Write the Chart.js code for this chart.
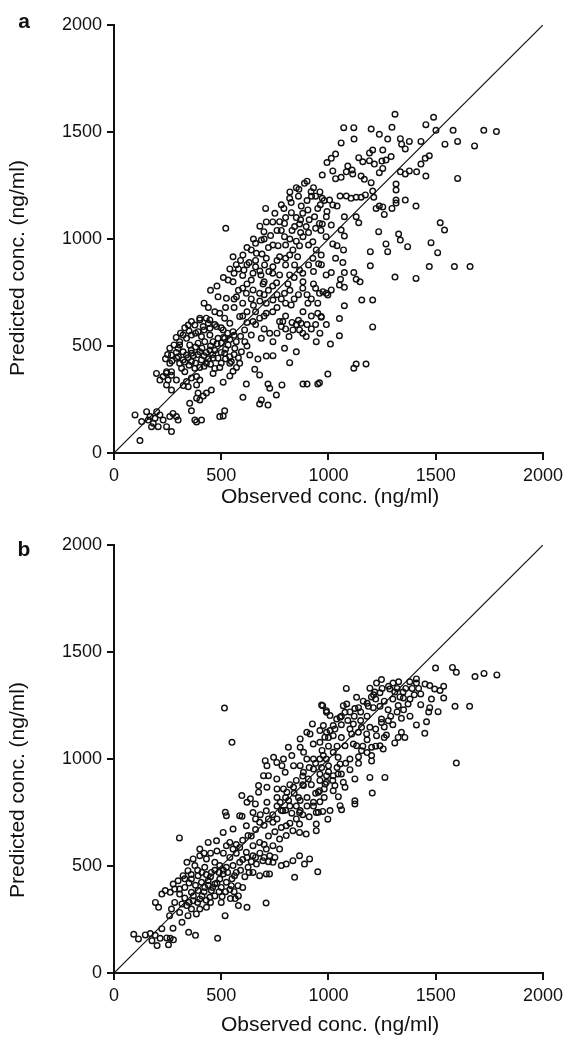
<!DOCTYPE html>
<html>
<head>
<meta charset="utf-8">
<script src="https://cdn.jsdelivr.net/npm/chart.js@4.4.1/dist/chart.umd.min.js"></script>
<style>
  html,body{margin:0;padding:0;background:#fff;}
  #wrap{position:relative;width:568px;height:1040px;}
  canvas{position:absolute;left:0;}
</style>
</head>
<body>
<div id="wrap">
  <canvas id="cA" width="568" height="520" style="top:0px"></canvas>
  <canvas id="cB" width="568" height="520" style="top:520px"></canvas>
</div>
<script>
// ---------- DATA ----------
const axisTicks = [0, 500, 1000, 1500, 2000];
const identityLineX = [0, 2000];
const identityLineY = [0, 2000];
const panelLabels = ['a', 'b'];
const xTitle = 'Observed conc. (ng/ml)';
const yTitle = 'Predicted conc. (ng/ml)';

// panel a: [observed, predicted]
const pointsA = [
[1310,1583],[1490,1569],[1454,1534],[1071,1520],[1118,1520],[1199,1514],[1296,1522],[1501,1508],[1581,1508],[1724,1508],
[1783,1502],[1237,1489],[1276,1467],[1119,1467],[1059,1449],[1335,1469],[1377,1456],[1341,1443],[1358,1421],[1431,1456],
[1543,1443],[1602,1456],[1681,1435],[1253,1416],[1206,1416],[1191,1402],[1033,1397],[1013,1377],[993,1357],[1141,1380],
[1160,1361],[1191,1366],[1214,1350],[1268,1369],[1292,1385],[1249,1364],[1470,1389],[1451,1377],[1431,1350],[1090,1341],
[1110,1322],[1083,1314],[1020,1318],[971,1299],[1033,1282],[1059,1288],[1113,1304],[1152,1294],[1167,1279],[1199,1263],
[1237,1310],[1253,1330],[1335,1314],[1358,1304],[1377,1318],[1411,1314],[1454,1294],[1602,1283],[1315,1257],[1315,1229],
[1206,1224],[1054,1201],[1083,1201],[1105,1190],[1129,1195],[1152,1195],[1172,1206],[971,1190],[1005,1182],[1315,1182],
[1315,1168],[1358,1182],[1211,1195],[1237,1154],[1253,1150],[1222,1143],[1296,1143],[1408,1154],[1020,1159],[1040,1154],
[993,1128],[1129,1104],[1074,1104],[1260,1115],[1141,1076],[971,1070],[1013,1065],[1059,1042],[1074,1014],[1521,1076],
[1541,1042],[1234,1034],[1327,1023],[1335,995],[1268,977],[1276,941],[1369,964],[1478,983],[1509,936],[1195,941],
[1020,977],[1040,969],[1070,949],[1033,910],[1067,890],[1195,875],[1470,871],[1587,871],[1660,871],[1013,843],
[1074,843],[1118,843],[1129,812],[1147,800],[1056,812],[1310,822],[1408,816],[967,880],
[974,754],[997,738],[1013,762],[1051,785],[1074,774],[1155,715],[1206,715],[1074,688],[966,634],[1051,628],
[1206,589],[1051,548],[1009,509],[997,369],[1118,396],[1129,416],[1175,416],[958,328],
[888,1260],[862,1232],[919,1221],[921,1200],[819,1190],[826,1170],[873,1154],[707,1143],[792,1143],[827,1123],
[904,1136],[950,1143],[962,1160],[521,1050],[772,1081],[795,1073],[865,1070],[935,1104],[958,1073],[896,1058],
[842,1058],[965,1040],[990,1104],[699,1034],[730,1016],[795,1011],[881,1011],[907,1030],[927,987],[989,1011],
[687,995],[640,949],[741,972],[765,969],[800,972],[834,949],[865,969],[907,972],[943,949],[555,917],
[601,925],[664,933],[710,910],[772,917],[819,925],[856,917],[927,910],[966,925],[702,879],[741,870],
[800,879],[842,879],[907,879],[954,884],[989,832],[606,855],[648,840],[685,832],[722,848],[772,832],
[819,832],[865,855],[930,848],[532,808],[555,800],[640,808],[695,790],[758,795],[811,790],[881,800],[930,790],
[485,730],[524,723],[571,730],[617,746],[648,762],[679,746],[710,700],[741,715],[795,746],[826,692],
[881,660],[904,700],[950,700],[958,746],[990,746],[950,653],[966,638],[493,653],[516,630],[540,606],
[586,638],[620,660],[648,614],[679,630],[346,598],[400,622],[430,630],[447,583],[478,591],[509,575],
[555,567],[609,575],[640,551],[687,536],[726,559],[741,520],[772,614],[787,614],[780,591],[710,653],
[816,544],[834,575],[865,575],[872,606],[896,544],[943,520],[850,473],[795,489],[741,455],[710,453],
[671,439],[633,458],[656,391],[679,365],[718,322],[726,303],[757,271],[783,318],[819,422],[881,322],
[900,322],[950,322],[617,322],[601,260],[687,248],[679,229],[718,224],[586,419],[571,400],[555,382],
[540,360],[509,331],[540,419],[493,400],[462,372],[454,294],[431,280],[416,266],[400,248],[385,256],
[392,280],[353,232],[361,197],[377,154],[408,154],[385,145],[493,170],[516,197],[509,173],[315,396],
[330,380],[361,350],[338,334],[323,315],[346,310],[385,318],[400,341],[385,357],[291,341],[268,363],
[252,341],[268,294],[244,373],[229,357],[268,380],[306,419],[260,419],[245,380],[293,443],[322,435],
[338,458],[361,427],[377,396],[408,435],[431,419],[462,443],[447,481],[400,473],[361,466],[322,473],
[291,470],[306,505],[353,505],[392,513],[423,520],[462,520],[501,513],[532,505],[563,489],[594,473],
[516,466],[485,443],[547,427],[198,372],[214,341],[245,318],[98,178],[121,58],[129,147],[152,193],
[168,170],[183,139],[206,123],[214,178],[199,193],[245,123],[268,100],[260,170],[291,170],[299,154],
[275,185],[229,154],[191,162],[175,123],[160,154],[306,520],[338,536],[361,551],[392,567],[416,591],
[377,598],[361,614],[400,630],[447,622],[408,544],[447,551],[485,536],[516,536],[322,551],[299,489],[268,458],
[360,480],[380,495],[410,490],[430,470],[450,500],[470,480],[500,470],[520,485],[540,450],[560,460],
[580,445],[420,455],[440,440],[390,460],[370,455],[345,445],[330,425],[350,410],[380,420],[400,400],
[420,405],[450,415],[470,395],[500,420],[520,440],[460,460],[480,510],[510,540],[540,530],[570,520],
[590,545],[610,520],[620,500],[560,550],[530,560],[500,585],[470,600],[440,605],[420,575],[380,560],
[350,570],[330,585],[310,560],[290,540],[280,505],[260,490],[250,460],[240,440],[270,430],[300,450],
[650,690],[680,710],[700,740],[720,760],[740,780],[760,740],[780,720],[800,700],[820,760],[840,720],
[860,740],[880,770],[900,740],[920,720],[940,770],[700,800],[680,850],[660,870],[740,840],[760,900],
[800,910],[840,820],[880,840],[620,790],[600,770],[580,760],[560,720],[600,700],[640,720],[660,660],
[700,640],[740,660],[760,680],[800,640],[830,610],[860,620],[900,600],[920,640],[940,600],
[850,1100],[880,1120],[910,1090],[940,1200],[900,1180],[860,1200],[830,1040],[870,1030],[940,1050],[760,1040],
[740,1080],[820,1000],[850,990],[720,960],[690,930],[660,900],[620,880],[580,860],[560,840],[600,830],
[620,960],[650,1000],[680,1060],[710,1080],[750,1120],[780,1160],[820,1220],[850,1240],[900,1270],[930,1240],
[960,1220],[980,1180],[870,1090],[800,1100],[780,1040],[700,1000],[660,980],[630,890],[590,900],[570,880],
[540,860],[510,820],[480,780],[450,760],[420,700],[440,680],[470,660],[520,680],[560,680],[600,640],
[620,610],[660,600],[700,580],[760,560],[800,580],[850,600],[880,560],[920,580],[960,560],[990,600]
];

// panel b: [observed, predicted]
const pointsB = [
[1499,1425],[1578,1428],[1596,1405],[1683,1385],[1725,1400],[1785,1393],[1410,1374],[1410,1355],[1379,1361],[1472,1343],
[1495,1327],[1537,1340],[1520,1320],[1537,1285],[1430,1304],[1480,1280],[1430,1254],[1472,1240],[1467,1220],[1511,1221],
[1590,1246],[1658,1246],[1410,1159],[1457,1174],[1449,1120],[1596,981],[1371,1257],[1349,1285],[1325,1250],[1301,1355],
[1327,1361],[1286,1327],[1247,1371],[1224,1355],[1193,1331],[1216,1313],[1309,1313],[1348,1313],[1333,1290],[1278,1230],
[1240,1246],[1209,1240],[1186,1246],[1162,1270],[1131,1288],[1123,1236],[1085,1257],[1077,1218],[1054,1195],[1247,1187],
[1279,1179],[1247,1171],[1193,1148],[1154,1148],[1116,1163],[1108,1117],[1139,1125],[1178,1117],[1224,1109],[1270,1112],
[1340,1125],[1356,1101],[1325,1101],[1309,1075],[1240,1062],[1255,1047],[1201,1055],[1154,1039],[1131,1062],[1116,1070],
[1077,1062],[1022,1109],[1007,1133],[991,1125],[1022,1156],[976,1156],[1038,1187],[1007,1203],[991,1218],[973,1249],
[1069,1249],[1083,1330],[1201,1016],[1201,991],[1022,1031],[1045,1008],[1054,977],[1000,968],[976,1016],[968,960],
[1022,922],[1045,930],[991,922],[1123,907],[1193,914],[1263,914],[1069,891],[1030,876],[984,883],[1077,868],
[1022,852],[1204,841],[1123,805],[1123,790],[1054,782],[1046,824],[1007,759],[1061,763],[958,852],[973,755],
[515,1238],[550,1078],[968,1252],[990,1226],[925,1164],[899,1125],[914,1117],[960,1133],[983,1102],[960,1078],
[929,1070],[868,1094],[868,1055],[884,1031],[813,1055],[829,1016],[790,1000],[783,969],[759,984],[744,1008],
[705,992],[713,969],[697,922],[720,922],[759,907],[798,938],[837,969],[868,969],[899,1000],[930,1000],
[960,1000],[990,1000],[930,953],[883,938],[906,907],[960,930],[990,891],[953,845],[883,876],[837,868],
[806,845],[760,860],[713,868],[674,876],[674,845],[636,814],[596,829],[620,798],[659,790],[713,798],
[775,798],[814,806],[868,806],[930,798],[868,759],[829,747],[953,751],[519,751],[597,732],[682,740],
[305,631],[92,181],[114,159],[146,178],[169,184],[192,176],[177,151],[201,128],[215,162],[246,164],
[254,132],[262,162],[277,155],[275,209],[223,207],[348,190],[380,176],[483,162],[317,237],[259,268],
[268,299],[306,283],[345,268],[384,276],[400,299],[361,299],[339,315],[317,323],[283,330],[431,307],
[518,268],[580,315],[620,307],[543,348],[565,348],[504,357],[709,327],[193,330],[208,307],[223,369],
[239,385],[262,377],[283,392],[306,392],[330,400],[361,377],[392,385],[423,400],[454,385],[447,354],
[400,346],[369,338],[306,369],[276,416],[299,431],[322,455],[345,478],[361,439],[392,455],[408,424],
[439,431],[470,416],[493,439],[524,424],[547,408],[578,408],[562,455],[509,463],[454,470],[423,494],
[377,502],[340,517],[369,533],[400,548],[431,533],[470,517],[493,502],[524,494],[555,502],[586,517],
[625,494],[648,470],[679,455],[710,463],[725,463],[664,509],[694,525],[741,517],[780,502],[803,509],
[842,447],[888,509],[950,473],[834,525],[865,548],[912,533],[400,579],[439,610],[478,618],[524,595],
[555,579],[586,587],[617,564],[648,595],[679,610],[710,579],[741,595],[772,626],[803,642],[834,665],
[865,657],[896,649],[943,665],[943,696],[865,696],[803,688],[741,704],[679,704],[617,688],[555,673],
[509,657],[524,735],[586,735],[648,750],[710,758],[787,758],[865,750],[943,750],[997,719],[625,642],
[772,579],[726,548],[648,548],
[330,350],[350,330],[370,360],[390,330],[410,360],[430,340],[450,330],[470,360],[490,380],[500,330],
[520,380],[540,390],[560,380],[580,360],[600,400],[420,380],[440,410],[460,400],[480,420],[500,400],
[350,420],[380,410],[330,440],[360,460],[390,480],[410,470],[430,460],[450,450],[470,480],[490,470],
[510,480],[530,470],[550,440],[570,470],[590,480],[610,450],[630,470],[600,530],[620,540],[640,520],
[660,540],[680,560],[700,540],[720,520],[750,540],[570,560],[540,540],[510,560],[480,570],[450,560],
[420,560],[700,600],[720,640],[750,660],[780,680],[820,700],[850,720],[880,740],[910,730],[930,780],
[960,800],[980,820],[900,820],[850,780],[800,760],[760,720],[700,690],[660,670],[640,640],[600,620],
[570,600],[540,610],[660,720],[720,720],[760,780],[800,820],[840,840],[880,880],[920,880],[960,900],
[1000,940],[1040,960],[1080,980],[1100,1000],[1140,1010],[1160,1060],[1180,1090],[1220,1140],[1260,1150],[1290,1200],
[1320,1220],[1350,1230],[1380,1280],[1400,1300],[1300,1280],[1260,1270],[1220,1280],[1180,1200],[1150,1180],[1100,1140],
[1060,1100],[1040,1060],[1000,1060],[1060,1160],[1100,1220],[1140,1240],[1200,1290],[1240,1310],
[760,820],[790,860],[820,880],[850,900],[880,920],[910,960],[940,980],[970,1040],[1000,1100],[1030,1140],
[1060,1200],[1090,1180],[1120,1200],[1150,1220],[1180,1260],[1210,1300],[1250,1330],[1280,1340],[1320,1330],[1360,1330],
[1390,1330],[1420,1330],[1450,1350],[1380,1200],[1340,1190],[1300,1160],[1260,1100],[1220,1060],[1180,1030],[1140,980],
[1100,950],[1060,930],[1020,900],[980,860],[940,840],[900,780],[860,820],[820,780],[780,760],[740,740]
];

// ---------- CHART ----------
const FONT = '"Liberation Sans", Arial, Helvetica, sans-serif';

const textPlugin = {
  id: 'panelText',
  afterDraw(chart, args, o) {
    const ctx = chart.ctx;
    ctx.save();
    ctx.fillStyle = '#111';
    ctx.textAlign = 'center';
    ctx.textBaseline = 'middle';
    ctx.font = 'bold 21px ' + FONT;
    ctx.fillText(o.label, o.labelX, o.labelY);
    ctx.font = '21px ' + FONT;
    ctx.fillText(o.xTitle, o.xTitleX, o.xTitleY);
    ctx.translate(o.yTitleX, o.yTitleY);
    ctx.rotate(-Math.PI / 2);
    ctx.fillText(o.yTitle, 0, 0);
    ctx.restore();
  }
};

function axisCfg(isX) {
  return {
    type: 'linear',
    min: axisTicks[0],
    max: axisTicks[axisTicks.length - 1],
    afterBuildTicks(scale) { scale.ticks = axisTicks.map(v => ({ value: v })); },
    ticks: {
      color: '#111',
      font: { family: FONT, size: 18 },
      padding: 5,
      maxRotation: 0,
      autoSkip: false,
      callback: v => String(v)
    },
    grid: {
      drawOnChartArea: false,
      drawTicks: true,
      tickLength: 7,
      color: '#111',
      lineWidth: 2
    },
    border: { color: '#111', width: 2 },
    afterFit(scale) {
      if (isX) scale.height = 67; else scale.width = 114;
    }
  };
}

function makeChart(id, pts, label, xTitleY, yTitleY, labelY) {
  return new Chart(document.getElementById(id), {
    type: 'scatter',
    data: {
      datasets: [
        {
          data: identityLineX.map((x, i) => ({ x, y: identityLineY[i] })),
          showLine: true,
          borderColor: '#111',
          borderWidth: 1.2,
          pointRadius: 0,
          order: 2
        },
        {
          data: pts.map(p => ({ x: p[0], y: p[1] })),
          pointStyle: 'circle',
          pointRadius: 2.8,
          borderColor: '#111',
          borderWidth: 1.4,
          backgroundColor: 'rgba(255,255,255,0)',
          order: 1
        }
      ]
    },
    options: {
      responsive: false,
      animation: false,
      layout: { padding: { top: 25, right: 24, left: 0, bottom: 0 } },
      plugins: {
        legend: { display: false },
        tooltip: { enabled: false },
        panelText: {
          label: label, labelX: 24, labelY: labelY,
          xTitle: xTitle, xTitleX: 330, xTitleY: xTitleY,
          yTitle: yTitle, yTitleX: 18, yTitleY: yTitleY
        }
      },
      scales: { x: axisCfg(true), y: axisCfg(false) }
    },
    plugins: [textPlugin]
  });
}

makeChart('cA', pointsA, panelLabels[0], 497, 268, 22);
makeChart('cB', pointsB, panelLabels[1], 505, 270, 30);
</script>
</body>
</html>
